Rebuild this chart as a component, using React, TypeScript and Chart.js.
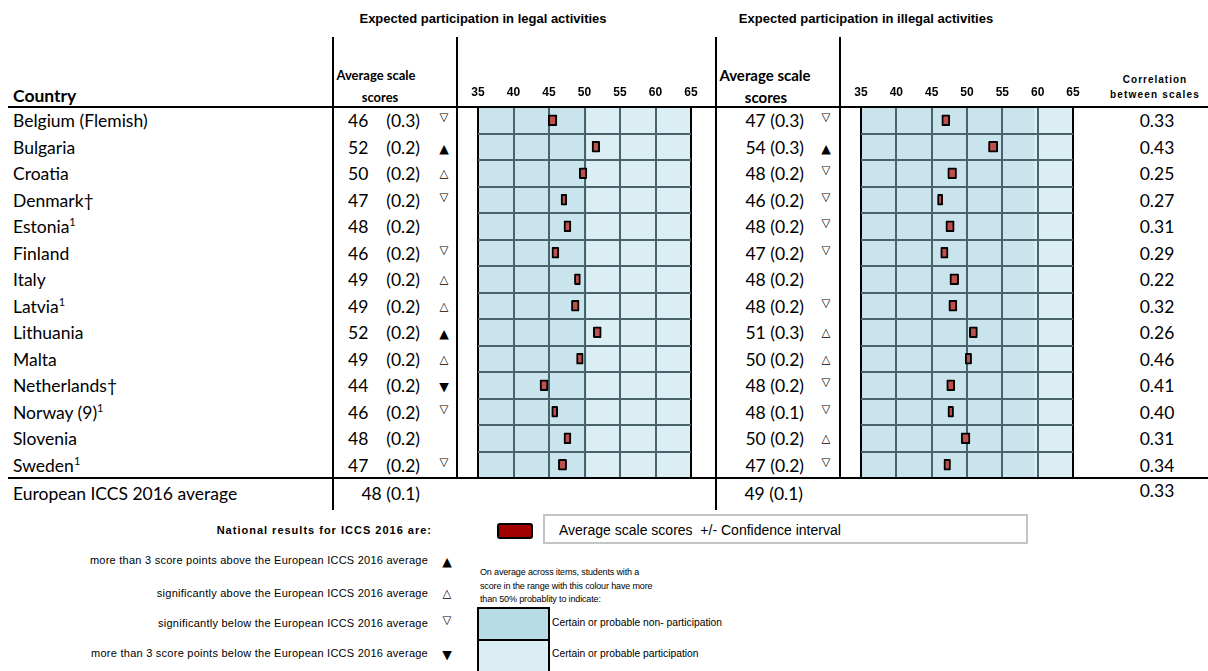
import React, { useEffect, useRef } from "react";
import { Chart, registerables } from "chart.js";
Chart.register(...registerables);

// ---------- DATA ----------
const countries = [
  "Belgium (Flemish)", "Bulgaria", "Croatia", "Denmark†", "Estonia", "Finland", "Italy",
  "Latvia", "Lithuania", "Malta", "Netherlands†", "Norway (9)", "Slovenia", "Sweden",
];
const footnotes = ["", "", "", "", "1", "", "", "1", "", "", "", "1", "", "1"];

const legalScores = [46, 52, 50, 47, 48, 46, 49, 49, 52, 49, 44, 46, 48, 47];
const legalSE = [0.3, 0.2, 0.2, 0.2, 0.2, 0.2, 0.2, 0.2, 0.2, 0.2, 0.2, 0.2, 0.2, 0.2];
const legalSig = ["▽", "▲", "△", "▽", "", "▽", "△", "△", "▲", "△", "▼", "▽", "", "▽"];
const legalMeans = [45.5, 51.6, 49.8, 47.1, 47.6, 45.9, 49.0, 48.7, 51.8, 49.35, 44.3, 45.8, 47.6, 46.9];
const legalHalfCI = [0.61, 0.54, 0.54, 0.4, 0.49, 0.49, 0.42, 0.54, 0.56, 0.47, 0.56, 0.42, 0.49, 0.58];

const illegalScores = [47, 54, 48, 46, 48, 47, 48, 48, 51, 50, 48, 48, 50, 47];
const illegalSE = [0.3, 0.3, 0.2, 0.2, 0.2, 0.2, 0.2, 0.2, 0.3, 0.2, 0.2, 0.1, 0.2, 0.2];
const illegalSig = ["▽", "▲", "▽", "▽", "▽", "▽", "", "▽", "△", "△", "▽", "▽", "△", "▽"];
const illegalMeans = [47.0, 53.7, 47.9, 46.2, 47.6, 46.8, 48.2, 48.0, 50.9, 50.2, 47.7, 47.7, 49.8, 47.2];
const illegalHalfCI = [0.57, 0.66, 0.62, 0.37, 0.59, 0.52, 0.62, 0.57, 0.57, 0.45, 0.57, 0.4, 0.62, 0.47];

const correlations = [0.33, 0.43, 0.25, 0.27, 0.31, 0.29, 0.22, 0.32, 0.26, 0.46, 0.41, 0.4, 0.31, 0.34];

const averageLabel = "European ICCS 2016 average";
const averageLegal = 48;
const averageLegalSE = 0.1;
const averageIllegal = 49;
const averageIllegalSE = 0.1;
const averageCorrelation = 0.33;

const axisMin = 35;
const axisMax = 65;
const axisStep = 5;
const legalThreshold = 50.4;
const illegalThreshold = 59.6;

const legendLabels = [
  "more than 3 score points above the European ICCS 2016 average",
  "significantly above the European ICCS 2016 average",
  "significantly below the European ICCS 2016 average",
  "more than 3 score points below the European ICCS 2016 average",
];
const legendSymbols = ["▲", "△", "▽", "▼"];

// ---------- STYLE ----------
const DARK_BAND = "#c9e4ec";
const LIGHT_BAND = "#dbeef4";
const GRID = "#4a636b";
const BAR = "#c0504d";
const TABLE_FONT = "Lato, 'Open Sans', sans-serif";
const ARIAL = "'Liberation Sans', Arial, sans-serif";
const ROW_TOP = 107;
const ROW_H = 26.5;
const rowY = (i: number) => ROW_TOP + ROW_H * (i + 0.5);

type TxtProps = {
  x: number;
  y: number;
  align?: "left" | "center" | "right";
  style?: React.CSSProperties;
  children?: React.ReactNode;
};
const Txt = ({ x, y, align = "left", style, children }: TxtProps) => (
  <div
    style={{
      position: "absolute",
      left: x,
      top: y,
      transform: `translate(${align === "left" ? "0" : align === "center" ? "-50%" : "-100%"}, -50%)`,
      whiteSpace: "nowrap",
      lineHeight: 1,
      color: "#000",
      ...style,
    }}
  >
    {children}
  </div>
);

const Line = ({ x, y, w, h, color = "#000" }: { x: number; y: number; w: number; h: number; color?: string }) => (
  <div style={{ position: "absolute", left: x, top: y, width: w, height: h, background: color }} />
);

type PlotProps = {
  left: number;
  top: number;
  width: number;
  height: number;
  padL: number;
  padR: number;
  means: number[];
  halfCI: number[];
  threshold: number;
};

function Plot({ left, top, width, height, padL, padR, means, halfCI, threshold }: PlotProps) {
  const ref = useRef<HTMLCanvasElement>(null);
  useEffect(() => {
    if (!ref.current) return;
    const bands = {
      id: "bands",
      beforeDraw(chart: any) {
        const { ctx, chartArea, scales } = chart;
        const x = scales.x;
        const x0 = x.getPixelForValue(axisMin);
        const xt = x.getPixelForValue(threshold);
        const x1 = x.getPixelForValue(axisMax);
        ctx.save();
        ctx.fillStyle = DARK_BAND;
        ctx.fillRect(x0, chartArea.top, xt - x0, chartArea.bottom - chartArea.top);
        ctx.fillStyle = LIGHT_BAND;
        ctx.fillRect(xt, chartArea.top, x1 - xt, chartArea.bottom - chartArea.top);
        ctx.restore();
      },
    };
    const chart = new Chart(ref.current, {
      type: "bar",
      data: {
        labels: countries,
        datasets: [
          {
            data: means.map((m, i) => [m - halfCI[i], m + halfCI[i]]) as any,
            backgroundColor: BAR,
            borderColor: "#000",
            borderWidth: 2,
            borderSkipped: false,
            borderRadius: 1,
            barThickness: 11,
          },
        ],
      },
      options: {
        indexAxis: "y",
        responsive: false,
        animation: false,
        layout: { padding: { left: padL, right: padR, top: 0, bottom: 0 } },
        plugins: { legend: { display: false }, tooltip: { enabled: false } },
        scales: {
          x: {
            type: "linear",
            position: "top",
            min: axisMin,
            max: axisMax,
            ticks: {
              stepSize: axisStep,
              color: "#000",
              padding: 7,
              font: { family: ARIAL, size: 12, weight: "bold" },
            },
            grid: {
              drawTicks: false,
              lineWidth: 2,
              color: (c: any) =>
                c.tick && (c.tick.value === axisMin || c.tick.value === axisMax) ? "#000" : GRID,
            },
            border: { display: false },
            afterFit: (s: any) => {
              s.height = 27;
            },
          },
          y: {
            type: "category",
            ticks: { display: false },
            grid: {
              drawTicks: false,
              offset: true,
              lineWidth: 2,
              color: (c: any) => (c.index === undefined || c.index === 0 ? "#000" : GRID),
            },
            border: { display: false },
            afterFit: (s: any) => {
              s.width = 0;
            },
          },
        },
      } as any,
      plugins: [bands],
    });
    return () => chart.destroy();
  }, []);
  return (
    <canvas
      ref={ref}
      width={width}
      height={height}
      style={{ position: "absolute", left, top, width, height }}
    />
  );
}

const symStyle = (s: string): React.CSSProperties => ({
  fontFamily: "'DejaVu Sans', sans-serif",
  fontSize: s === "▲" || s === "▼" ? 12.5 : 11.5,
  marginTop: s === "▽" ? -2 : s === "△" ? 1 : 2,
});

export default function App() {
  const rowFont: React.CSSProperties = { fontFamily: TABLE_FONT, fontSize: 17.5 };
  const headBold: React.CSSProperties = { fontFamily: TABLE_FONT, fontWeight: 700 };
  const legendFont: React.CSSProperties = { fontFamily: ARIAL, fontSize: 11, letterSpacing: 0.25 };
  const noteFont: React.CSSProperties = { fontFamily: ARIAL, fontSize: 9, letterSpacing: -0.15 };
  return (
    <div
      style={{
        position: "absolute",
        left: 0,
        top: 0,
        width: 1208,
        height: 671,
        background: "#fff",
        overflow: "hidden",
      }}
    >
      {/* titles */}
      <Txt x={483} y={18} align="center" style={{ fontFamily: ARIAL, fontWeight: 700, fontSize: 13 }}>
        Expected participation in legal activities
      </Txt>
      <Txt x={866} y={18} align="center" style={{ fontFamily: ARIAL, fontWeight: 700, fontSize: 13 }}>
        Expected participation in illegal activities
      </Txt>

      {/* headers */}
      <Txt x={13} y={96} style={{ ...headBold, fontSize: 17.5 }}>Country</Txt>
      <Txt x={376} y={75} align="center" style={{ ...headBold, fontSize: 13 }}>Average scale</Txt>
      <Txt x={380} y={97} align="center" style={{ ...headBold, fontSize: 13 }}>scores</Txt>
      <Txt x={765} y={75} align="center" style={{ ...headBold, fontSize: 15 }}>Average scale</Txt>
      <Txt x={766} y={97} align="center" style={{ ...headBold, fontSize: 15 }}>scores</Txt>
      <Txt x={1155} y={80} align="center" style={{ fontFamily: ARIAL, fontWeight: 700, fontSize: 10, letterSpacing: 1 }}>
        Correlation
      </Txt>
      <Txt x={1155} y={95} align="center" style={{ fontFamily: ARIAL, fontWeight: 700, fontSize: 10, letterSpacing: 1.2 }}>
        between scales
      </Txt>

      {/* table lines */}
      <Line x={8} y={106} w={1200} h={2} />
      <Line x={8} y={477} w={1200} h={2} />
      <Line x={332} y={37} w={2} h={473} />
      <Line x={456} y={37} w={2} h={441} />
      <Line x={715} y={37} w={2} h={473} />
      <Line x={839} y={37} w={2} h={441} />

      {/* rows */}
      {countries.map((c, i) => (
        <React.Fragment key={c}>
          <Txt x={13} y={rowY(i) + 1} style={rowFont}>
            {c}
            {footnotes[i] ? (
              <span style={{ fontSize: 11, position: "relative", top: -7 }}>{footnotes[i]}</span>
            ) : null}
          </Txt>
          <Txt x={348} y={rowY(i) + 1} style={rowFont}>{legalScores[i]}</Txt>
          <Txt x={420} y={rowY(i) + 1} align="right" style={rowFont}>({legalSE[i].toFixed(1)})</Txt>
          <Txt x={444} y={rowY(i)} align="center" style={symStyle(legalSig[i])}>{legalSig[i]}</Txt>
          <Txt x={804} y={rowY(i) + 1} align="right" style={rowFont}>
            {illegalScores[i]} ({illegalSE[i].toFixed(1)})
          </Txt>
          <Txt x={826} y={rowY(i)} align="center" style={symStyle(illegalSig[i])}>{illegalSig[i]}</Txt>
          <Txt x={1157} y={rowY(i) + 1} align="center" style={rowFont}>{correlations[i].toFixed(2)}</Txt>
        </React.Fragment>
      ))}

      {/* average row */}
      <Txt x={13} y={494} style={rowFont}>{averageLabel}</Txt>
      <Txt x={420} y={494} align="right" style={rowFont}>
        {averageLegal} ({averageLegalSE.toFixed(1)})
      </Txt>
      <Txt x={803} y={494} align="right" style={rowFont}>
        {averageIllegal} ({averageIllegalSE.toFixed(1)})
      </Txt>
      <Txt x={1157} y={491} align="center" style={rowFont}>{averageCorrelation.toFixed(2)}</Txt>

      {/* plots */}
      <Plot left={460} top={80} width={250} height={398} padL={18} padR={19} means={legalMeans} halfCI={legalHalfCI} threshold={legalThreshold} />
      <Plot left={843} top={80} width={248} height={398} padL={18} padR={18} means={illegalMeans} halfCI={illegalHalfCI} threshold={illegalThreshold} />

      {/* significance legend */}
      <Txt x={432} y={530} align="right" style={{ fontFamily: ARIAL, fontWeight: 700, fontSize: 11, letterSpacing: 1 }}>
        National results for ICCS 2016 are:
      </Txt>
      {legendLabels.map((l, i) => (
        <React.Fragment key={l}>
          <Txt x={428} y={[560, 593, 623, 653][i]} align="right" style={legendFont}>
            {l}
          </Txt>
          <Txt x={447} y={[560, 593, 623, 653][i]} align="center" style={symStyle(legendSymbols[i])}>
            {legendSymbols[i]}
          </Txt>
        </React.Fragment>
      ))}

      {/* marker legend */}
      <div
        style={{
          position: "absolute",
          left: 497,
          top: 523,
          width: 36,
          height: 16,
          boxSizing: "border-box",
          background: "#a00000",
          border: "2px solid #000",
          borderRadius: 3,
        }}
      />
      <div
        style={{
          position: "absolute",
          left: 543,
          top: 514,
          width: 485,
          height: 30,
          boxSizing: "border-box",
          border: "2px solid #c4c4c4",
        }}
      />
      <Txt x={559} y={530} style={{ fontFamily: ARIAL, fontSize: 14 }}>
        Average scale scores&nbsp;&nbsp;+/- Confidence interval
      </Txt>

      {/* colour legend */}
      <Txt x={480} y={572} style={noteFont}>
        On average across items, students with a
      </Txt>
      <Txt x={480} y={586} style={noteFont}>
        score in the range with this colour have more
      </Txt>
      <Txt x={480} y={599} style={noteFont}>
        than 50% probablity to indicate:
      </Txt>
      <div
        style={{
          position: "absolute",
          left: 477,
          top: 607,
          width: 73,
          height: 34,
          boxSizing: "border-box",
          background: "#b7dce6",
          border: "2px solid #000",
        }}
      />
      <div
        style={{
          position: "absolute",
          left: 477,
          top: 639,
          width: 73,
          height: 40,
          boxSizing: "border-box",
          background: "#daeef3",
          border: "2px solid #000",
        }}
      />
      <Txt x={552} y={623} style={{ fontFamily: ARIAL, fontSize: 10.3 }}>
        Certain or probable non- participation
      </Txt>
      <Txt x={552} y={654} style={{ fontFamily: ARIAL, fontSize: 10.3 }}>
        Certain or probable participation
      </Txt>
    </div>
  );
}
